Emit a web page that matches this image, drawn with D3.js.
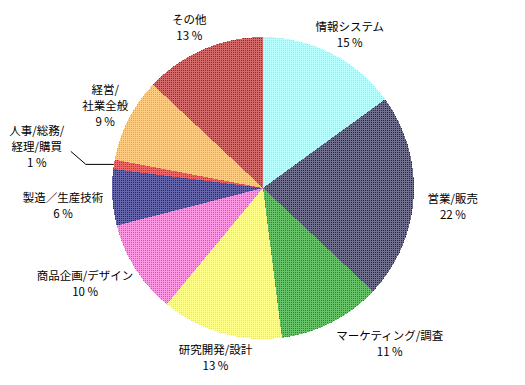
<!DOCTYPE html>
<html>
<head>
<meta charset="utf-8">
<style> body { margin: 0; background: #fff; } text { font-family: "Noto Sans CJK JP", sans-serif; font-size: 11.5px; fill: #000; } </style>
<script src="https://cdnjs.cloudflare.com/ajax/libs/d3/7.8.5/d3.min.js"></script>
</head>
<body>
<div id="chart"></div>
<script>
// data
var labels = [["情報システム"], ["営業/販売"], ["マーケティング/調査"], ["研究開発/設計"],
              ["商品企画/デザイン"], ["製造／生産技術"], ["人事/総務/", "経理/購買"], ["経営/", "社業全般"], ["その他"]];
var shares = [15, 22, 11, 13, 10, 6, 1, 9, 13];

// dither colours: [light, dark]
var colors = [["#b8ffff", "#78f4f4"], ["#70708e", "#262644"], ["#68c468", "#228a22"], ["#ffff88", "#eeee22"],
              ["#ff98e4", "#f040c0"], ["#6666ac", "#22226e"], ["#f06868", "#c82828"], ["#ffcc80", "#f0a038"], ["#d46a6a", "#942626"]];
// small label nudges where the chart spread labels apart
var nudge = [[1, 15], [5, 7], [37, -20], [4, -7], [-2, -16], [0, 5], [0, 0], [12, 5], [-2, 6]];

var W = 525, H = 385, cx = 263, cy = 188, R = 151, lineH = 16;

var svg = d3.select("#chart").append("svg").attr("width", W).attr("height", H);
var defs = svg.append("defs");

colors.forEach(function(c, i) {
    var p = defs.append("pattern").attr("id", "dot" + i)
        .attr("patternUnits", "userSpaceOnUse").attr("width", 2).attr("height", 2);
    p.append("rect").attr("width", 2).attr("height", 2).attr("fill", c[0]);
    p.append("rect").attr("width", 1).attr("height", 1).attr("fill", c[1]);
});

var pie = d3.pie().sort(null).value(function(d) { return d; });
var arcs = pie(shares);
var arc = d3.arc().innerRadius(0).outerRadius(R);

var g = svg.append("g").attr("transform", "translate(" + cx + "," + cy + ")");

g.selectAll("path.slice").data(arcs).enter().append("path")
    .attr("class", "slice")
    .attr("d", arc)
    .attr("fill", function(d, i) { return "url(#dot" + i + ")"; })
    .attr("shape-rendering", "crispEdges");

arcs.forEach(function(a, i) {
    var mid = (a.startAngle + a.endAngle) / 2;
    var sx = Math.sin(mid), sy = -Math.cos(mid);
    var lines = labels[i].concat([shares[i] + " %"]);
    var t = g.append("text").attr("text-anchor", "middle");
    lines.forEach(function(l, k) {
        t.append("tspan").attr("x", 0).attr("dy", k == 0 ? 0 : lineH).text(l);
    });
    var bb = t.node().getBBox();
    var w = bb.width / 2, h = lines.length * lineH / 2;

    if (shares[i] < 3) {
        // leader line for the tiny slice
        var ex = R * sx, ey = R * sy;
        var kx = ex - 28, ky = ey;
        var lx = kx - 15, ly = ky - 13;
        g.append("path")
            .attr("d", d3.line()([[ex, ey], [kx, ky], [lx, ly]]))
            .attr("fill", "none").attr("stroke", "#000").attr("stroke-width", 1);
        t.attr("transform", "translate(" + (lx - 34) + "," + (ly - 16) + ")");
        return;
    }

    var d = R + 8 + Math.abs(sx) * w + Math.abs(sy) * h;
    var px = d * sx + nudge[i][0], py = d * sy + nudge[i][1];
    t.attr("transform", "translate(" + px + "," + (py - h + lineH * 0.75) + ")");
});
</script>
</body>
</html>
